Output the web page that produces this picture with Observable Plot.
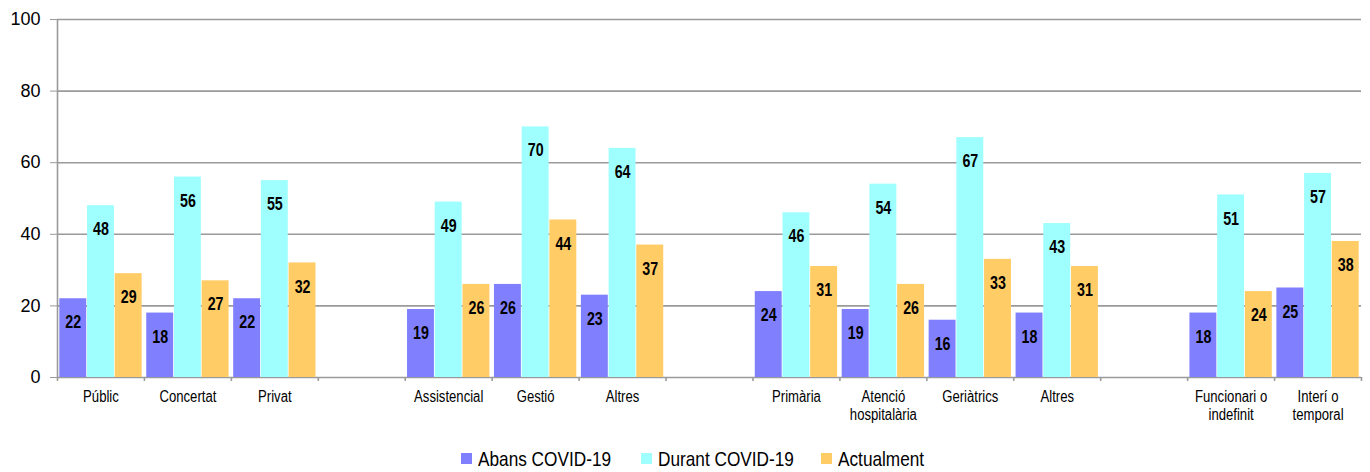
<!DOCTYPE html>
<html>
<head>
<meta charset="utf-8">
<script src="https://cdn.jsdelivr.net/npm/d3@7"></script>
<script src="https://cdn.jsdelivr.net/npm/@observablehq/plot@0.6"></script>
<style>
  html, body { margin: 0; padding: 0; background: #fff; }
  #chart svg { display: block; }
  .legend { display: flex; justify-content: center; align-items: center; height: 27px;
    font-family: "Liberation Sans", Arial, sans-serif; font-size: 21px; color: #000; padding-left: 16px; }
  .legend .item { display: flex; align-items: center; }
  .legend .sw { width: 11px; height: 11px; margin-right: 6px; flex: none; }
  .legend .lab { display: inline-block; transform-origin: left center; transform: scaleX(0.82); white-space: nowrap; }
</style>
</head>
<body>
<div id="chart"></div>
<div class="legend" id="legend"></div>
<script>
const categories = ["Públic","Concertat","Privat","","Assistencial","Gestió","Altres","","Primària","Atenció\nhospitalària","Geriàtrics","Altres","","Funcionari o\nindefinit","Interí o\ntemporal"];
const abans      = [22,18,22,null,19,26,23,null,24,19,16,18,null,18,25];
const durant     = [48,56,55,null,49,70,64,null,46,54,67,43,null,51,57];
const actualment = [29,27,32,null,26,44,37,null,31,26,33,31,null,24,38];
const seriesNames = ["Abans COVID-19","Durant COVID-19","Actualment"];
const seriesColors = ["#8080FF","#9FFFFF","#FFCC66"];
const yTicks = [0,20,40,60,80,100];

const W = 1370, H = 445;
const mL = 57, mR = 9, mT = 19, mB = 68;
const slots = d3.range(categories.length);
const slotW = (W - mL - mR) / slots.length;
const pad = 2.3, gap = 0.8;
const bw = (slotW - 2 * pad + gap) / 3;

const seriesValues = [abans, durant, actualment];
const font = "'Liberation Sans', Arial, sans-serif";

const marks = [
  Plot.ruleY(yTicks, {stroke: "#9a9a9a", strokeWidth: 1.6}),
  Plot.ruleX([0], {x: 0, y1: 0, y2: 100, dx: -slotW / 2, stroke: "#9a9a9a", strokeWidth: 1.6}),
  Plot.axisY({ticks: yTicks, tickSize: 7, tickPadding: 10, stroke: "#9a9a9a", fill: "#000", fontSize: 18, fontFamily: font, label: null})
];

seriesValues.forEach((vals, i) => {
  const rows = slots.filter(s => vals[s] != null).map(s => ({slot: s, value: vals[s]}));
  const left = pad + i * bw;
  const right = slotW - (pad + (i + 1) * bw - gap);
  marks.push(Plot.barY(rows, {x: "slot", y: "value", fill: seriesColors[i], insetLeft: left, insetRight: right}));
  const cx = left + (bw - gap) / 2 - slotW / 2;
  marks.push(Plot.text(rows, {x: "slot", y: "value", text: d => String(d.value), dx: cx, dy: 23.5,
    fontWeight: "bold", fontSize: 19, fontFamily: font, fill: "#000"}));
});

// boundary ticks
marks.push(Plot.ruleX(slots, {x: d => d, y1: 0, y2: -1.1, dx: -slotW / 2, stroke: "#9a9a9a", strokeWidth: 1.6}));
marks.push(Plot.ruleX([slots.length - 1], {x: d => d, y1: 0, y2: -1.1, dx: slotW / 2, stroke: "#9a9a9a", strokeWidth: 1.6}));
// category labels
marks.push(Plot.text(slots.filter(s => categories[s] !== ""), {x: d => d, y: 0, text: d => categories[d],
  lineAnchor: "top", dy: 12, lineHeight: 1.12, fontSize: 16, fontFamily: font, fill: "#000"}));

const chart = Plot.plot({
  width: W, height: H,
  marginLeft: mL, marginRight: mR, marginTop: mT, marginBottom: mB,
  x: {type: "band", domain: slots, padding: 0, round: false, axis: null},
  y: {domain: [0, 100], axis: null},
  style: {fontFamily: font, background: "#fff"},
  marks
});
// condense text like Arial Narrow
d3.select(chart).selectAll('g[aria-label="text"]').each(function() {
  const k = this.getAttribute("font-weight") === "bold" ? 0.75 : 0.82;
  d3.select(this).selectAll("text").each(function() {
    const t = this.getAttribute("transform") || "";
    this.setAttribute("transform", t + ` scale(${k},1)`);
  });
});
document.getElementById("chart").appendChild(chart);

const legend = document.getElementById("legend");
const gaps = [30, 27];
seriesNames.forEach((n, i) => {
  const it = document.createElement("div");
  it.className = "item";
  const lab = document.createElement("span");
  lab.className = "lab";
  lab.textContent = n;
  const sw = document.createElement("span");
  sw.className = "sw";
  sw.style.background = seriesColors[i];
  it.appendChild(sw); it.appendChild(lab);
  legend.appendChild(it);
});
legend.querySelectorAll(".item").forEach((it, i) => {
  const lab = it.querySelector(".lab");
  const w = lab.getBoundingClientRect().width;
  lab.style.marginRight = (w - w / 0.82) + "px";
  if (i < 2) it.style.marginRight = gaps[i] + "px";
});
</script>
</body>
</html>
